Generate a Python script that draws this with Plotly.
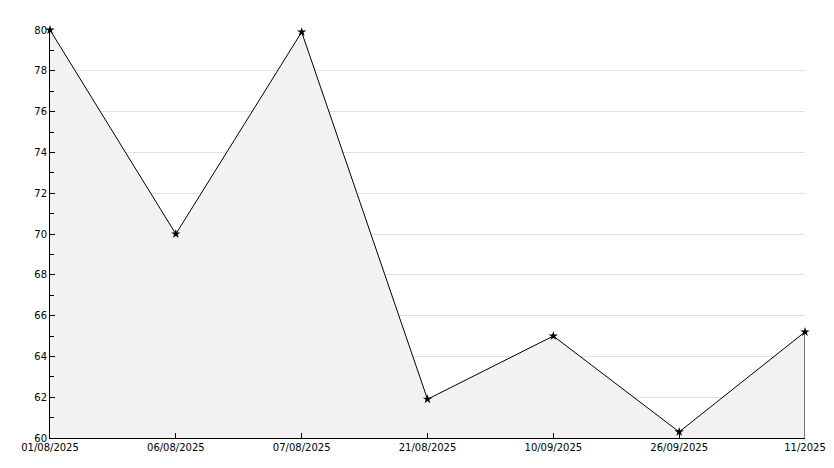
import plotly.graph_objects as go

dates = ["01/08/2025", "06/08/2025", "07/08/2025", "21/08/2025", "10/09/2025", "26/09/2025", "11/2025"]
values = [80, 70, 79.9, 61.9, 65, 60.3, 65.2]
y_min, y_max = 60, 80
y_ticks = list(range(60, 81, 2))

fig = go.Figure()
fig.add_trace(go.Scatter(
    x=dates, y=values, mode="lines+markers",
    line=dict(color="black", width=1),
    fill="tozeroy", fillcolor="#f2f2f2",
    marker=dict(symbol="star", size=7, color="black"),
    cliponaxis=False, showlegend=False, hoverinfo="x+y",
))
# right edge outline of the filled area
fig.add_trace(go.Scatter(
    x=[dates[-1], dates[-1]], y=[y_min, values[-1]], mode="lines",
    line=dict(color="black", width=1), showlegend=False, hoverinfo="skip",
    cliponaxis=False,
))

fig.update_layout(
    width=834, height=468,
    margin=dict(l=50, r=29, t=30, b=30, autoexpand=False),
    paper_bgcolor="white", plot_bgcolor="white",
    font=dict(family="DejaVu Sans", size=10, color="black"),
)
fig.update_xaxes(
    type="category", range=[0, len(dates) - 1], automargin=False,
    showgrid=False, showline=True, linecolor="black", linewidth=1,
    ticks="inside", ticklen=5, tickcolor="black",
    tickvals=dates, ticktext=dates, zeroline=False,
)
fig.update_yaxes(
    range=[y_min, y_max], tickvals=y_ticks, automargin=False,
    showgrid=True, gridcolor="#e0e0e0", gridwidth=1,
    showline=True, linecolor="black", linewidth=1,
    ticks="inside", ticklen=5, tickcolor="black",
    minor=dict(dtick=1, ticks="inside", ticklen=4, tickcolor="black", showgrid=False, tick0=60),
    zeroline=False,
)
fig.write_html("out.html", config={"displayModeBar": False},
               post_script="document.body.style.margin='0';")
